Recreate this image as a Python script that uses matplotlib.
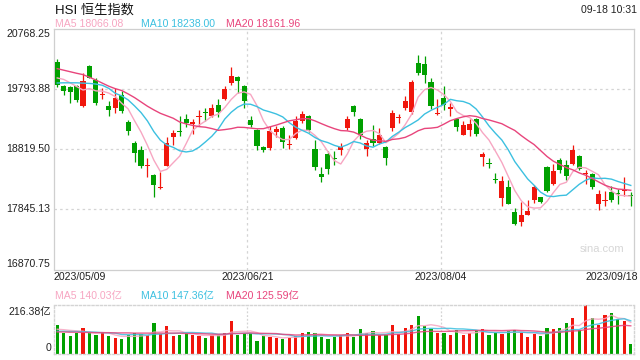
import numpy as np
import matplotlib
matplotlib.use("Agg")
import matplotlib.pyplot as plt
from matplotlib.transforms import blended_transform_factory

plt.rcParams['font.family'] = ['Liberation Sans', 'Noto Sans CJK SC']

# =========================
# DATA
# =========================
date_labels = ["2023/05/09", "2023/06/21", "2023/08/04", "2023/09/18"]

open_ = [20239, 19854, 19838, 19854, 19518, 20179, 19951, 19708, 19529, 19485,
         19708, 19269, 18923, 18815, 18555, 18409, 18193, 18555, 19014, 19107,
         19318, 19226, 19346, 19432, 19367, 19545, 19643, 19898, 19989, 19854,
         19302, 19128, 18852, 18842, 19096, 19167, 18884, 18998, 19286, 19355,
         18831, 18420, 18750, 18672, 18803, 19167, 19529, 19318, 18826, 18993,
         18923, 18858, 19167, 19334, 19491, 19421, 20222, 20211, 19908, 19394,
         19654, 19475, 19313, 19058, 19129, 19318, 18696, 18592, 18338, 18030,
         18203, 17797, 17635, 17759, 17992, 18041, 18533, 18263, 18652, 18571,
         18587, 18717, 18414, 18419, 17938, 17987, 18133, 18100, 18149, 18073]
high = [20292, 19860, 19845, 19865, 20060, 20190, 19979, 19817, 19610, 19817,
        19761, 19302, 18949, 18880, 18680, 18420, 18452, 19021, 19128, 19367,
        19399, 19313, 19464, 19492, 19562, 19638, 19843, 20158, 20005, 19870,
        19367, 19156, 18880, 19204, 19204, 19204, 19058, 19367, 19448, 19383,
        18977, 18527, 18787, 18798, 18923, 19355, 19540, 19330, 18977, 19209,
        19167, 18870, 19453, 19399, 19681, 19941, 20357, 20330, 19979, 19637,
        19843, 19573, 19320, 19275, 19313, 19325, 18777, 18679, 18436, 18392,
        18327, 17867, 17959, 17992, 18246, 18045, 18555, 18587, 18679, 18652,
        18896, 18725, 18490, 18430, 18154, 18138, 18219, 18176, 18371, 18122]
low = [19826, 19696, 19573, 19594, 19502, 19970, 19534, 19638, 19355, 19411,
       19411, 19047, 18615, 18517, 18371, 18046, 18185, 18543, 18896, 19031,
       19183, 19074, 19204, 19286, 19346, 19346, 19627, 19870, 19735, 19492,
       19183, 18803, 18771, 18815, 19021, 18842, 18826, 18990, 19248, 19102,
       18490, 18284, 18420, 18571, 18733, 19139, 19367, 18988, 18706, 18868,
       18912, 18560, 19112, 19248, 19464, 19399, 20022, 19897, 19480, 19383,
       19464, 19356, 19112, 19050, 19031, 19042, 18555, 18517, 18273, 17905,
       17930, 17597, 17570, 17752, 17949, 17949, 18122, 18246, 18436, 18317,
       18571, 18479, 18257, 18181, 17840, 17894, 17959, 17932, 18057, 17894]
close = [19859, 19761, 19745, 19615, 19935, 19979, 19573, 19724, 19453, 19659,
         19437, 19112, 18761, 18543, 18571, 18235, 18202, 18923, 19086, 19102,
         19248, 19269, 19362, 19416, 19492, 19420, 19805, 20016, 19924, 19599,
         19221, 18880, 18803, 19123, 19151, 18933, 18891, 19286, 19399, 19128,
         18527, 18365, 18501, 18665, 18858, 19318, 19420, 19058, 18923, 18917,
         19058, 18680, 19411, 19344, 19610, 19908, 20060, 20022, 19518, 19405,
         19535, 19508, 19183, 19221, 19231, 19074, 18750, 18581, 18317, 18311,
         17938, 17613, 17759, 17824, 18203, 17959, 18138, 18474, 18479, 18382,
         18815, 18501, 18425, 18203, 18095, 17997, 18003, 18090, 18159, 18063]

ma5 = [19979, 19955, 19900, 19840, 19783, 19807, 19769, 19765, 19733, 19678,
       19569, 19477, 19284, 19102, 18885, 18644, 18462, 18495, 18603, 18710,
       18912, 19126, 19213, 19279, 19357, 19392, 19499, 19630, 19731, 19753,
       19713, 19528, 19285, 19125, 19036, 18978, 18980, 19077, 19132, 19127,
       19046, 18941, 18784, 18637, 18583, 18741, 18952, 19064, 19115, 19127,
       19075, 18927, 18998, 19082, 19221, 19391, 19667, 19789, 19824, 19783,
       19708, 19598, 19430, 19370, 19336, 19243, 19092, 18971, 18791, 18607,
       18379, 18152, 17988, 17889, 17867, 17872, 17977, 18120, 18251, 18286,
       18458, 18530, 18520, 18465, 18408, 18244, 18145, 18078, 18069, 18062]
ma10 = [19897, 19900, 19900, 19900, 19895, 19890, 19880, 19860, 19810, 19730,
        19688, 19623, 19525, 19418, 19281, 19107, 18970, 18890, 18853, 18797,
        18778, 18794, 18854, 18941, 19034, 19152, 19312, 19422, 19505, 19555,
        19552, 19514, 19458, 19428, 19394, 19346, 19254, 19181, 19129, 19082,
        19012, 18961, 18930, 18885, 18855, 18894, 18947, 18924, 18876, 18855,
        18908, 18940, 19031, 19099, 19174, 19233, 19297, 19393, 19453, 19502,
        19549, 19632, 19609, 19597, 19559, 19476, 19345, 19201, 19081, 18971,
        18811, 18622, 18480, 18340, 18237, 18126, 18064, 18054, 18070, 18077,
        18165, 18253, 18320, 18358, 18347, 18351, 18337, 18299, 18267, 18235]
ma20 = [20130, 20105, 20080, 20055, 20033, 19990, 19945, 19895, 19845, 19805,
        19775, 19720, 19660, 19590, 19520, 19460, 19405, 19365, 19325, 19264,
        19233, 19209, 19189, 19180, 19157, 19129, 19141, 19156, 19179, 19176,
        19165, 19154, 19156, 19185, 19214, 19249, 19283, 19301, 19317, 19318,
        19282, 19237, 19194, 19156, 19125, 19120, 19100, 19053, 19002, 18968,
        18960, 18950, 18981, 18992, 19015, 19063, 19122, 19159, 19165, 19178,
        19229, 19286, 19320, 19348, 19367, 19354, 19321, 19297, 19267, 19236,
        19180, 19127, 19044, 18968, 18898, 18801, 18705, 18627, 18575, 18524,
        18488, 18438, 18400, 18349, 18292, 18238, 18201, 18176, 18168, 18156]

# volume in 亿
volume = [129, 92, 80, 92, 115, 95, 85, 92, 80, 70,
          67, 85, 92, 88, 85, 137, 88, 124, 80, 85,
          92, 85, 80, 73, 85, 85, 95, 148, 85, 92,
          92, 60, 82, 77, 73, 67, 73, 82, 92, 99,
          95, 77, 67, 77, 85, 95, 77, 111, 95, 102,
          85, 85, 129, 88, 115, 129, 168, 126, 111, 92,
          95, 85, 107, 85, 92, 107, 111, 85, 95, 89,
          104, 107, 95, 75, 89, 80, 116, 111, 116, 137,
          159, 107, 216, 159, 129, 173, 181, 154, 146, 45]
vol_ma5 = [110, 108, 105, 103, 101.6, 94.8, 93.4, 95.8, 93.4, 84.4,
           78.8, 78.8, 78.8, 80.4, 83.4, 97.4, 98, 104.4, 102.8, 102.8,
           93.8, 93.2, 84.4, 83, 83, 81.6, 83.6, 97.2, 99.6, 101,
           102.4, 95.4, 82.2, 80.6, 76.8, 71.8, 74.4, 74.4, 77.4, 82.6,
           88.2, 89, 86, 83, 80.2, 80.2, 80.2, 89, 92.6, 96,
           94, 95.6, 99.2, 97.8, 100.4, 109.2, 125.8, 125.2, 129.8, 125.2,
           118.4, 101.8, 98, 92.8, 92.8, 95.2, 100.4, 96, 98, 97.4,
           96.8, 96, 98, 94, 94, 89.2, 91, 94.2, 102.4, 112,
           127.8, 126, 147, 155.6, 154, 156.8, 171.6, 159.2, 156.6, 139.8]
vol_ma10 = [101, 101, 100, 100, 99, 98, 97, 95, 94, 93,
            86.8, 86.1, 87.3, 86.9, 83.9, 88.1, 88.4, 91.6, 91.6, 93.1,
            95.6, 95.6, 94.4, 92.9, 92.9, 87.7, 88.4, 90.8, 91.3, 92,
            92, 89.5, 89.7, 90.1, 88.9, 87.1, 84.9, 78.3, 79, 79.7,
            80, 81.7, 80.2, 80.2, 81.4, 84.2, 84.6, 87.5, 87.8, 88.1,
            87.1, 87.9, 94.1, 95.2, 98.2, 101.6, 110.7, 112.2, 113.8, 112.8,
            113.8, 113.8, 111.6, 111.3, 109, 106.8, 101.1, 97, 95.4, 95.1,
            96, 98.2, 97, 96, 95.7, 93, 93.5, 96.1, 98.2, 103,
            108.5, 108.5, 120.6, 129, 133, 142.3, 148.8, 153.1, 156.1, 146.9]
vol_ma20 = [98, 98, 97, 97, 96, 96, 95, 95, 95, 94,
            94, 94, 93, 93, 93, 93, 93, 93, 93, 93,
            91.2, 90.9, 90.9, 89.9, 88.4, 87.9, 88.4, 91.2, 91.5, 92.6,
            93.8, 92.6, 92, 91.5, 90.9, 87.4, 86.7, 84.6, 85.2, 85.9,
            86, 85.6, 85, 85.2, 85.2, 85.7, 84.8, 82.9, 83.4, 83.9,
            83.6, 84.8, 87.2, 87.7, 89.8, 92.9, 97.7, 99.9, 100.8, 100.5,
            100.5, 100.9, 102.9, 103.3, 103.6, 104.2, 105.9, 104.6, 104.6, 104,
            104.9, 106, 104.3, 103.7, 102.4, 99.9, 97.3, 96.6, 96.8, 99,
            102.3, 103.4, 108.8, 112.5, 114.4, 117.7, 121.2, 124.6, 127.2, 125]

price_ticks = [16870.75, 17845.13, 18819.50, 19793.88, 20768.25]
price_tick_labels = ["16870.75", "17845.13", "18819.50", "19793.88", "20768.25"]
vol_top = 216.38
vol_tick_labels = ["0", "216.38亿"]

ma_texts = ["MA5 18066.08", "MA10 18238.00", "MA20 18161.96"]
vol_ma_texts = ["MA5 140.03亿", "MA10 147.36亿", "MA20 125.59亿"]

# =========================
# STYLE
# =========================
RED = "#f0160c"
GREEN = "#00a000"
MA_COLORS = ["#f7a6c2", "#3cc0e0", "#e8457c"]
GRID = "#d4d4d4"
BORDER = "#cfcfcf"
FS = 7.6

W, H = 640, 360
fig = plt.figure(figsize=(6.4, 3.6), dpi=100)
ax = fig.add_axes([54 / W, 1 - 269.5 / H, 580 / W, 240.2 / H])
axv = fig.add_axes([54 / W, 1 - 354.3 / H, 580 / W, 49.3 / H])

x = np.arange(len(close))
o = np.array(open_)
c = np.array(close)
up = c >= o
colors = np.where(up, RED, GREEN)

# =========================
# CANDLES + MA LINES
# =========================
ax.vlines(x, low, high, colors=colors, linewidth=0.9, zorder=2)
body = np.maximum(np.abs(c - o), 16)
ax.bar(x, body, bottom=np.minimum(o, c), width=0.78, color=colors,
       linewidth=0, zorder=3)
for series, col in zip([ma5, ma10, ma20], MA_COLORS):
    ax.plot(x, series, color=col, lw=1.0, zorder=4)

ax.set_xlim(-0.5, len(close) - 0.5)
ax.set_ylim(price_ticks[0], price_ticks[-1])
ax.set_xticks([])
ax.set_yticks([])
for s in ax.spines.values():
    s.set_color(BORDER)
    s.set_linewidth(0.9)
for yv in price_ticks[1:-1]:
    ax.axhline(yv, color=GRID, lw=0.9, ls=(0, (2, 2.5)), zorder=1)
for fx in (1 / 3, 2 / 3):
    ax.plot([fx, fx], [0, 1], transform=ax.transAxes, color=GRID, lw=0.9,
            ls=(0, (2, 2.5)), zorder=1)

trans = blended_transform_factory(ax.transAxes, ax.transData)
for i, (yv, lab) in enumerate(zip(price_ticks, price_tick_labels)):
    va = "bottom" if i == 0 else ("top" if i == len(price_ticks) - 1 else "center")
    ax.text(-4 / 580, yv, lab, transform=trans, ha="right", va=va,
            fontsize=FS, color="#222222")

# date labels under the price panel
dy = -8 / 240.2
ax.text(0, dy, date_labels[0], transform=ax.transAxes, ha="left", va="center",
        fontsize=FS, color="#222222")
ax.text(1 / 3, dy, date_labels[1], transform=ax.transAxes, ha="center",
        va="center", fontsize=FS, color="#222222")
ax.text(2 / 3, dy, date_labels[2], transform=ax.transAxes, ha="center",
        va="center", fontsize=FS, color="#222222")
ax.text(1 + 4 / 580, dy, date_labels[3], transform=ax.transAxes, ha="right",
        va="center", fontsize=FS, color="#222222")

ax.text(602 / W, 1 - 249.5 / H, "sina.com", transform=fig.transFigure,
        ha="center", va="center", fontsize=8, color="#d6d6d6")

# =========================
# VOLUME PANEL
# =========================
axv.bar(x, volume, width=0.5, color=colors, linewidth=0, zorder=2)
for series, col in zip([vol_ma5, vol_ma10, vol_ma20], MA_COLORS):
    axv.plot(x, series, color=col, lw=1.0, alpha=0.85, zorder=3)
axv.set_xlim(-0.5, len(close) - 0.5)
axv.set_ylim(0, vol_top)
axv.set_xticks([])
axv.set_yticks([])
for s in axv.spines.values():
    s.set_color(GRID)
    s.set_linewidth(1.0)
    s.set_linestyle((0, (1.5, 1.5)))
for fx in (1 / 3, 2 / 3):
    axv.plot([fx, fx], [0, 1], transform=axv.transAxes, color=GRID, lw=0.9,
             ls=(0, (1.5, 1.5)), zorder=1)

fig.text(51 / W, 1 - 348 / H, vol_tick_labels[0], ha="right", va="center",
         fontsize=FS, color="#222222")
fig.text(51 / W, 1 - 312 / H, vol_tick_labels[1], ha="right", va="center",
         fontsize=FS, color="#222222")

# =========================
# HEADER TEXT
# =========================
fig.text(55 / W, 1 - 10 / H, "HSI 恒生指数", ha="left", va="center",
         fontsize=9.5, color="#111111")
fig.text(637 / W, 1 - 10 / H, "09-18 10:31", ha="right", va="center",
         fontsize=FS, color="#222222")
for xp, txt, col in zip([55, 141, 226], ma_texts, MA_COLORS):
    fig.text(xp / W, 1 - 24 / H, txt, ha="left", va="center", fontsize=FS,
             color=col)
for xp, txt, col in zip([55, 141, 226], vol_ma_texts, MA_COLORS):
    fig.text(xp / W, 1 - 296 / H, txt, ha="left", va="center", fontsize=FS,
             color=col)

fig.savefig("out.png", dpi=100)
